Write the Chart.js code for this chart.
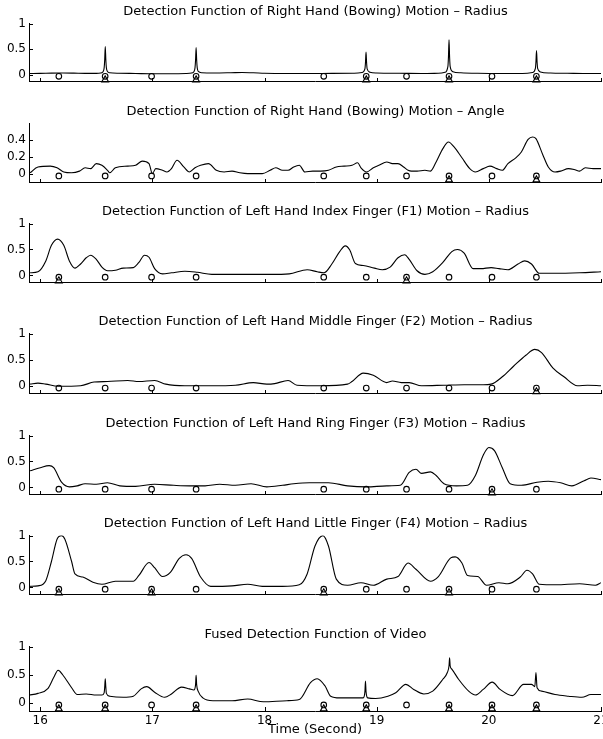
<!DOCTYPE html>
<html><head><meta charset="utf-8">
<script src="https://cdn.jsdelivr.net/npm/chart.js@4.4.0/dist/chart.umd.min.js"></script>
<style>
html,body{margin:0;padding:0;background:#fff;overflow:hidden;width:603px;height:739px;position:relative;}
canvas{position:absolute;left:0;}
</style></head><body>
<script>
// ---------- DATA ----------
const xTicks = [16, 17, 18, 19, 20, 21];
const yTicksUnit = [0, 0.5, 1];
const yTicksAngle = [0, 0.2, 0.4];
const onsets = [16.166, 16.579, 16.993, 17.39, 18.528, 18.907, 19.266, 19.645, 20.028, 20.424];

const titles = [
  "Detection Function of Right Hand (Bowing) Motion \u2013 Radius",
  "Detection Function of Right Hand (Bowing) Motion \u2013 Angle",
  "Detection Function of Left Hand Index Finger (F1) Motion \u2013 Radius",
  "Detection Function of Left Hand Middle Finger (F2) Motion \u2013 Radius",
  "Detection Function of Left Hand Ring Finger (F3) Motion \u2013 Radius",
  "Detection Function of Left Hand Little Finger (F4) Motion \u2013 Radius",
  "Fused Detection Function of Video"
];

const bowRadiusT = [15.90,16.00,16.10,16.20,16.30,16.40,16.50,16.54,16.56,16.57,16.575,16.58,16.585,16.59,16.60,16.62,16.70,16.85,17.00,17.15,17.30,17.35,17.37,17.38,17.385,17.39,17.395,17.40,17.41,17.44,17.55,17.70,17.80,17.90,18.00,18.20,18.40,18.60,18.80,18.87,18.895,18.90,18.905,18.91,18.915,18.94,19.00,19.20,19.40,19.55,19.61,19.635,19.64,19.645,19.65,19.655,19.68,19.75,19.90,20.10,20.30,20.39,20.415,20.42,20.425,20.43,20.435,20.46,20.55,20.70,20.90,21.00];
const bowRadiusV = [0.020,0.022,0.028,0.030,0.027,0.022,0.022,0.030,0.055,0.130,0.290,0.550,0.290,0.130,0.060,0.035,0.025,0.020,0.015,0.015,0.020,0.030,0.055,0.130,0.280,0.530,0.280,0.130,0.060,0.035,0.030,0.035,0.040,0.035,0.025,0.020,0.020,0.022,0.025,0.040,0.110,0.230,0.440,0.230,0.110,0.045,0.030,0.025,0.020,0.025,0.045,0.160,0.350,0.680,0.350,0.160,0.055,0.035,0.025,0.020,0.020,0.040,0.120,0.250,0.470,0.250,0.120,0.050,0.030,0.025,0.020,0.020];
const bowRadiusDet = [16.579, 17.39, 18.907, 19.645, 20.424];

const bowAngleT = [15.91,15.98,16.09,16.15,16.21,16.28,16.35,16.40,16.45,16.50,16.55,16.60,16.62,16.67,16.78,16.85,16.91,16.97,17.00,17.03,17.09,17.13,17.17,17.22,17.28,17.33,17.38,17.43,17.50,17.57,17.64,17.71,17.78,17.85,17.91,17.98,18.05,18.10,18.16,18.21,18.26,18.31,18.36,18.43,18.50,18.57,18.64,18.71,18.78,18.83,18.86,18.91,18.97,19.02,19.09,19.14,19.19,19.24,19.28,19.31,19.36,19.43,19.48,19.53,19.59,19.64,19.69,19.76,19.83,19.88,19.95,20.01,20.07,20.12,20.17,20.24,20.29,20.35,20.39,20.42,20.48,20.53,20.59,20.64,20.71,20.76,20.81,20.86,20.93,21.00];
const bowAngleV = [0.01,0.08,0.09,0.07,0.02,0.01,0.03,0.07,0.06,0.12,0.10,0.04,0.01,0.07,0.09,0.10,0.15,0.12,0.00,0.06,0.04,0.02,0.06,0.16,0.08,0.02,0.07,0.10,0.12,0.04,0.02,0.03,0.01,0.00,0.00,0.00,0.04,0.07,0.04,0.04,0.08,0.10,0.02,0.03,0.03,0.04,0.08,0.09,0.10,0.13,0.07,0.02,0.07,0.10,0.14,0.12,0.12,0.08,0.04,0.03,0.03,0.04,0.03,0.14,0.30,0.38,0.32,0.19,0.06,0.02,0.06,0.09,0.06,0.04,0.12,0.19,0.26,0.41,0.44,0.42,0.23,0.08,0.02,0.03,0.06,0.05,0.03,0.07,0.06,0.06];
const bowAngleDet = [19.645, 20.424];

const f1T = [15.91,15.98,16.05,16.10,16.155,16.21,16.26,16.31,16.36,16.41,16.45,16.50,16.55,16.60,16.67,16.74,16.83,16.88,16.93,16.97,17.02,17.09,17.17,17.29,17.40,17.53,17.71,17.88,18.05,18.22,18.38,18.47,18.53,18.60,18.67,18.72,18.76,18.81,18.88,18.98,19.05,19.12,19.19,19.25,19.29,19.36,19.43,19.50,19.59,19.67,19.72,19.78,19.86,19.93,20.02,20.09,20.17,20.26,20.32,20.38,20.45,20.57,20.81,21.00];
const f1V = [0.05,0.07,0.28,0.58,0.70,0.58,0.28,0.14,0.22,0.34,0.39,0.31,0.16,0.09,0.10,0.14,0.15,0.25,0.39,0.35,0.13,0.03,0.05,0.08,0.06,0.02,0.02,0.02,0.02,0.03,0.11,0.07,0.05,0.22,0.46,0.57,0.49,0.23,0.19,0.14,0.11,0.16,0.34,0.40,0.31,0.09,0.02,0.07,0.25,0.46,0.50,0.43,0.13,0.13,0.15,0.13,0.11,0.22,0.28,0.22,0.04,0.04,0.05,0.07];
const f1Det = [16.166, 19.266];

const f2T = [15.91,15.98,16.05,16.16,16.36,16.48,16.60,16.78,16.88,17.02,17.12,17.29,17.53,17.74,17.90,18.02,18.09,18.21,18.29,18.50,18.74,18.78,18.88,18.97,19.09,19.14,19.22,19.29,19.40,19.60,19.78,19.95,20.02,20.12,20.22,20.33,20.41,20.47,20.57,20.67,20.79,20.88,21.00];
const f2V = [0.04,0.06,0.04,0.00,0.01,0.08,0.09,0.11,0.09,0.11,0.04,0.01,0.01,0.02,0.07,0.04,0.05,0.11,0.02,0.01,0.04,0.09,0.25,0.21,0.07,0.10,0.07,0.07,0.01,0.02,0.03,0.03,0.04,0.18,0.38,0.59,0.70,0.64,0.35,0.18,0.01,0.02,0.01];
const f2Det = [20.424];

const f3T = [15.91,16.00,16.08,16.12,16.19,16.26,16.33,16.40,16.50,16.60,16.71,16.85,17.02,17.19,17.33,17.47,17.60,17.74,17.88,18.02,18.16,18.26,18.40,18.57,18.74,18.91,19.09,19.21,19.29,19.35,19.40,19.48,19.53,19.60,19.71,19.81,19.88,19.95,20.00,20.05,20.12,20.19,20.29,20.43,20.53,20.64,20.74,20.85,20.91,21.00];
const f3V = [0.32,0.38,0.42,0.38,0.10,0.01,0.03,0.07,0.06,0.09,0.03,0.02,0.06,0.04,0.03,0.03,0.06,0.04,0.07,0.01,0.04,0.07,0.09,0.09,0.03,0.01,0.03,0.04,0.29,0.35,0.27,0.30,0.23,0.07,0.03,0.04,0.23,0.62,0.77,0.71,0.38,0.07,0.04,0.10,0.12,0.09,0.03,0.13,0.18,0.15];
const f3Det = [20.028];

const f4T = [15.91,15.98,16.05,16.10,16.15,16.19,16.22,16.28,16.31,16.38,16.47,16.55,16.67,16.83,16.88,16.97,17.02,17.09,17.16,17.24,17.30,17.35,17.43,17.52,17.71,17.85,17.98,18.16,18.31,18.38,18.45,18.52,18.57,18.64,18.74,18.86,18.97,19.09,19.19,19.28,19.35,19.48,19.55,19.66,19.70,19.76,19.81,19.90,19.98,20.09,20.17,20.28,20.34,20.39,20.45,20.60,20.81,20.95,21.00];
const f4V = [0.02,0.03,0.13,0.50,0.93,1.00,0.93,0.50,0.26,0.20,0.10,0.06,0.12,0.12,0.23,0.48,0.38,0.21,0.29,0.56,0.63,0.56,0.20,0.02,0.03,0.06,0.02,0.02,0.05,0.26,0.80,1.00,0.80,0.16,0.04,0.09,0.04,0.16,0.21,0.47,0.35,0.12,0.21,0.57,0.59,0.47,0.23,0.21,0.04,0.09,0.07,0.20,0.33,0.26,0.06,0.05,0.07,0.04,0.09];
const f4Det = [16.166, 16.993, 18.528, 19.645];

const fusedT = [15.90,15.98,16.07,16.12,16.16,16.20,16.28,16.33,16.41,16.50,16.55,16.57,16.575,16.58,16.585,16.59,16.62,16.74,16.83,16.90,16.95,17.02,17.11,17.17,17.26,17.33,17.37,17.385,17.39,17.395,17.41,17.45,17.54,17.71,17.85,17.99,18.20,18.31,18.41,18.47,18.54,18.59,18.67,18.88,18.895,18.90,18.905,18.92,18.99,19.10,19.17,19.26,19.33,19.42,19.50,19.59,19.63,19.645,19.65,19.655,19.67,19.73,19.82,19.88,19.95,20.03,20.10,20.21,20.31,20.38,20.41,20.42,20.43,20.47,20.59,20.71,20.83,20.91,21.00];
const fusedV = [0.14,0.17,0.26,0.45,0.58,0.50,0.27,0.15,0.16,0.14,0.14,0.18,0.28,0.43,0.28,0.17,0.12,0.10,0.12,0.25,0.29,0.19,0.10,0.16,0.28,0.25,0.23,0.32,0.49,0.32,0.20,0.09,0.04,0.04,0.07,0.02,0.04,0.06,0.36,0.43,0.30,0.12,0.09,0.09,0.20,0.39,0.20,0.09,0.08,0.12,0.18,0.33,0.24,0.16,0.21,0.42,0.54,0.66,0.80,0.66,0.60,0.42,0.21,0.14,0.24,0.37,0.24,0.13,0.33,0.33,0.29,0.54,0.27,0.21,0.15,0.12,0.10,0.15,0.15];
const fusedDet = [16.166, 16.579, 17.39, 18.528, 18.907, 19.645, 20.028, 20.424];

// ---------- LAYOUT / STYLE ----------
const FONT = "'DejaVu Sans', 'Liberation Sans', Arial, sans-serif";
const TITLE_H = 23.6;
const panels = [
  {t: bowRadiusT, v: bowRadiusV, det: bowRadiusDet, title: titles[0], yMin: -0.143, yMax: 1, yt: yTicksUnit, cy: -0.035, ty: -0.105, top: 24, bottom: 86},
  {t: bowAngleT, v: bowAngleV, det: bowAngleDet, title: titles[1], yMin: -0.11, yMax: 0.6, yt: yTicksAngle, cy: -0.028, ty: -0.075, top: 124, bottom: 187},
  {t: f1T, v: f1V, det: f1Det, title: titles[2], yMin: -0.143, yMax: 1, yt: yTicksUnit, cy: -0.035, ty: -0.105, top: 223.5, bottom: 287},
  {t: f2T, v: f2V, det: f2Det, title: titles[3], yMin: -0.143, yMax: 1, yt: yTicksUnit, cy: -0.035, ty: -0.105, top: 333.5, bottom: 398},
  {t: f3T, v: f3V, det: f3Det, title: titles[4], yMin: -0.143, yMax: 1, yt: yTicksUnit, cy: -0.035, ty: -0.105, top: 436, bottom: 499},
  {t: f4T, v: f4V, det: f4Det, title: titles[5], yMin: -0.143, yMax: 1, yt: yTicksUnit, cy: -0.035, ty: -0.105, top: 536, bottom: 599},
  {t: fusedT, v: fusedV, det: fusedDet, title: titles[6], yMin: -0.143, yMax: 1, yt: yTicksUnit, cy: -0.035, ty: -0.105, top: 646.7, bottom: 711, last: true}
];

const fmt = v => String(+Number(v).toFixed(2));

const inwardTicks = {
  id: 'inwardTicks',
  afterDraw(chart) {
    const ctx = chart.ctx, x = chart.scales.x, y = chart.scales.y, a = chart.chartArea;
    ctx.save();
    ctx.strokeStyle = '#000';
    ctx.lineWidth = 1;
    ctx.beginPath();
    x.ticks.forEach(tk => {
      const px = Math.round(x.getPixelForValue(tk.value)) + 0.5;
      ctx.moveTo(px, Math.round(a.bottom));
      ctx.lineTo(px, Math.round(a.bottom) - 4);
    });
    y.ticks.forEach(tk => {
      const py = Math.round(y.getPixelForValue(tk.value)) + 0.5;
      ctx.moveTo(Math.round(a.left), py);
      ctx.lineTo(Math.round(a.left) + 4, py);
    });
    ctx.stroke();
    ctx.restore();
  }
};

panels.forEach(p => {
  const extra = p.last ? 26 : 6;
  const cv = document.createElement('canvas');
  const h = Math.round(TITLE_H + (p.bottom - p.top) + extra);
  cv.width = 631; cv.height = h;
  cv.style.width = '631px'; cv.style.height = h + 'px';
  cv.style.top = (p.top - TITLE_H) + 'px';
  document.body.appendChild(cv);

  const line = p.t.map((t, i) => ({x: t, y: p.v[i]}));
  const circ = onsets.map(t => ({x: t, y: p.cy}));
  const tri = p.det.map(t => ({x: t, y: p.ty}));

  new Chart(cv, {
    type: 'line',
    data: {datasets: [
      {data: line, borderColor: '#000', borderWidth: 1.1, pointRadius: 0, cubicInterpolationMode: 'monotone', fill: false},
      {data: circ, showLine: false, pointStyle: 'circle', pointRadius: 2.8, borderColor: '#000', borderWidth: 1.1, backgroundColor: 'rgba(0,0,0,0)', clip: false},
      {data: tri, showLine: false, pointStyle: 'triangle', pointRadius: 4, borderColor: '#000', borderWidth: 1.1, backgroundColor: 'rgba(0,0,0,0)', clip: false}
    ]},
    options: {
      responsive: false, animation: false, devicePixelRatio: 1,
      layout: {padding: {top: 0, left: 0, right: 0, bottom: p.last ? 0 : 6}},
      plugins: {
        legend: {display: false}, tooltip: {enabled: false},
        title: {display: true, text: p.title, color: '#000', font: {family: FONT, size: 13, weight: 'normal', lineHeight: 1.2}, padding: {top: 4, bottom: 4}}
      },
      scales: {
        x: {
          type: 'linear', min: 15.9, max: 21,
          grid: {display: false, drawTicks: false},
          border: {display: true, color: '#000', width: 1},
          ticks: {display: !!p.last, color: '#000', font: {family: FONT, size: 12}, padding: 3, autoSkip: false, maxRotation: 0, callback: fmt},
          afterBuildTicks: s => { s.ticks = xTicks.map(v => ({value: v})); },
          afterFit: s => { s.height = p.last ? 26 : 0; },
          title: {display: !!p.last, text: 'Time (Second)', color: '#000', font: {family: FONT, size: 13}, padding: 0}
        },
        y: {
          type: 'linear', min: p.yMin, max: p.yMax,
          grid: {display: false, drawTicks: false},
          border: {display: true, color: '#000', width: 1},
          ticks: {color: '#000', font: {family: FONT, size: 12}, padding: 3, callback: fmt},
          afterBuildTicks: s => { s.ticks = p.yt.map(v => ({value: v})); },
          afterFit: s => { s.width = 29; }
        },
        y2: {
          position: 'right', display: true,
          grid: {display: false, drawTicks: false},
          border: {display: false},
          ticks: {display: false},
          afterFit: s => { s.width = 30; }
        }
      }
    },
    plugins: [inwardTicks]
  });
});
</script>
</body></html>
